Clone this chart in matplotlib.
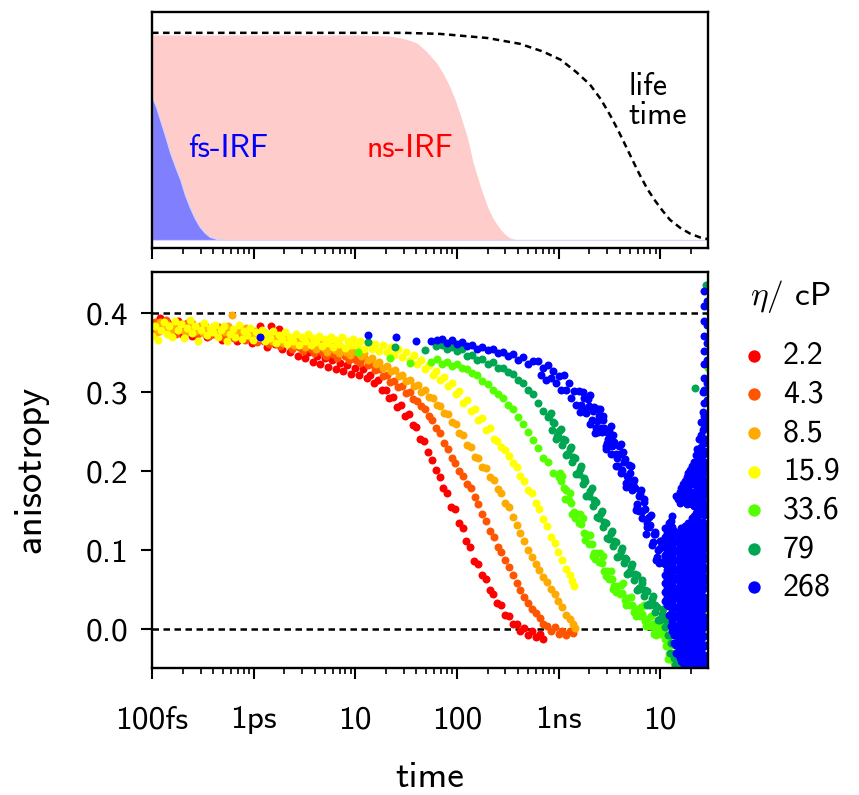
import matplotlib
matplotlib.use("Agg")
from matplotlib import pyplot as plt

plt.rcParams["font.family"] = "cmss10"
plt.rcParams["mathtext.fontset"] = "cm"
plt.rcParams["axes.unicode_minus"] = False

# ---------------- top panel: instrument responses and lifetime (time in ps)
fs_irf_t = [0.1, 0.11, 0.12, 0.135, 0.151, 0.17, 0.19, 0.21, 0.234, 0.263,
            0.295, 0.33, 0.37, 0.44, 0.55, 29600]
fs_irf = [0.69, 0.64, 0.58, 0.50, 0.42, 0.35, 0.29, 0.22, 0.16, 0.105,
          0.063, 0.035, 0.015, 0.004, 0.0, 0.0]

ns_irf_t = [0.1, 10, 21.9, 28.2, 33.9, 40.7, 50.1, 63.1, 74.1, 85.1, 95.5, 107,
            126, 145, 170, 200, 229, 269, 302, 331, 380, 447, 29600]
ns_irf = [0.99, 0.99, 0.985, 0.975, 0.965, 0.95, 0.91, 0.855, 0.80, 0.74, 0.68, 0.61,
          0.50, 0.37, 0.26, 0.16, 0.10, 0.05, 0.025, 0.01, 0.002, 0.0, 0.0]

life_t = [0.1, 30, 68, 200, 417, 700, 1050, 1500, 2040, 2600, 3240, 3850, 4520,
          5350, 6300, 7500, 8900, 10600, 12500, 15800, 19800, 24800, 29600]
life = [1.0, 1.0, 0.995, 0.975, 0.947, 0.91, 0.87, 0.81, 0.75, 0.68, 0.60, 0.53, 0.46,
        0.385, 0.314, 0.245, 0.19, 0.14, 0.097, 0.058, 0.03, 0.012, 0.004]

# ---------------- bottom panel: anisotropy decays, delay in ps
visc = ["2.2", "4.3", "8.5", "15.9", "33.6", "79", "268"]
colors = ["#ff0000", "#ff5500", "#ffaa00", "#ffff00", "#55ff00", "#00a651", "#0000ff"]

t_22 = [0.10, 0.105, 0.11, 0.12, 0.13, 0.14, 0.15, 0.165, 0.18, 0.195,
        0.21, 0.23, 0.25, 0.27, 0.29, 0.32, 0.35, 0.38, 0.41, 0.45,
        0.49, 0.53, 0.58, 0.63, 0.69, 0.75, 0.82, 0.89, 0.97, 1.05,
        1.15, 1.25, 1.36, 1.48, 1.62, 1.76, 1.92, 2.1, 2.3, 2.5,
        2.7, 3.0, 3.2, 3.5, 3.8, 4.2, 4.5, 5.0, 5.4, 5.9,
        6.4, 7.0, 7.6, 8.3, 9.1, 9.9,
        10.8, 11.8, 12.9, 14.0, 15.3, 16.7, 18.2, 19.9, 21.7, 23.7,
        25.8, 28.2, 30.8, 33.6, 36.6, 40.0, 43.6, 47.6, 52, 56.7,
        61.9, 67.5, 73.7, 80.4, 87.7, 95.7, 104, 114, 124, 136,
        148, 162, 176, 192, 210, 229, 250, 273, 298, 325,
        354, 387, 422, 460, 502, 548, 598, 652, 700]
r_22 = [0.372, 0.386, 0.379, 0.394, 0.381, 0.388, 0.376, 0.384, 0.390, 0.373,
        0.382, 0.386, 0.371, 0.380, 0.375, 0.384, 0.369, 0.378, 0.373, 0.381,
        0.366, 0.375, 0.370, 0.379, 0.364, 0.374, 0.368, 0.377, 0.362, 0.371,
        0.384, 0.364, 0.357, 0.383, 0.361, 0.380, 0.354, 0.362, 0.350, 0.358,
        0.346, 0.354, 0.343, 0.350, 0.338, 0.346, 0.335, 0.343, 0.332, 0.340,
        0.329, 0.337, 0.326, 0.334, 0.323, 0.331,
        0.322, 0.329, 0.318, 0.321, 0.311, 0.315, 0.303, 0.302, 0.292, 0.294,
        0.281, 0.283, 0.270, 0.272, 0.258, 0.256, 0.240, 0.238, 0.224, 0.214,
        0.201, 0.193, 0.178, 0.172, 0.155, 0.152, 0.134, 0.128, 0.111, 0.104,
        0.086, 0.082, 0.068, 0.063, 0.050, 0.045, 0.033, 0.030, 0.018, 0.016,
        0.006, 0.006, -0.002, 0.001, -0.007, -0.003, -0.010, -0.006, -0.012]

t_43 = [0.102, 0.108, 0.117, 0.126, 0.137, 0.148, 0.16, 0.173, 0.187, 0.202,
        0.22, 0.24, 0.26, 0.28, 0.305, 0.33, 0.36, 0.39, 0.42, 0.46,
        0.5, 0.54, 0.59, 0.64, 0.7, 0.76, 0.83, 0.9, 0.98, 1.07,
        1.17, 1.28, 1.4, 1.53, 1.67, 1.82, 1.98, 2.16, 2.36, 2.57,
        2.8, 3.05, 3.33, 3.63, 3.96, 4.32, 4.71, 5.13, 5.6, 6.1,
        6.65, 7.25, 7.9, 8.6, 9.4,
        10.2, 11.1, 12.1, 13.2, 14.4, 15.7, 17.1, 18.7, 20.4, 22.2,
        24.2, 26.4, 28.8, 31.4, 34.2, 37.3, 40.7, 44.4, 48.4, 52.8,
        57.5, 62.7, 68.4, 74.6, 81.3, 88.7, 96.7, 105, 115, 125,
        137, 149, 163, 177, 193, 211, 230, 251, 273, 298,
        325, 355, 387, 422, 460, 501, 547, 596, 650, 709,
        773, 843, 919, 1000, 1090, 1190, 1300, 1400]
r_43 = [0.380, 0.389, 0.377, 0.385, 0.391, 0.379, 0.386, 0.374, 0.383, 0.378,
        0.387, 0.376, 0.382, 0.373, 0.380, 0.384, 0.371, 0.379, 0.375, 0.382,
        0.370, 0.377, 0.373, 0.368, 0.376, 0.371, 0.366, 0.374, 0.369, 0.363,
        0.372, 0.366, 0.361, 0.369, 0.364, 0.358, 0.366, 0.361, 0.355, 0.363,
        0.357, 0.352, 0.360, 0.354, 0.349, 0.357, 0.351, 0.346, 0.354, 0.348,
        0.343, 0.350, 0.345, 0.340, 0.347,
        0.341, 0.337, 0.343, 0.334, 0.336, 0.328, 0.329, 0.320, 0.321, 0.313,
        0.314, 0.306, 0.307, 0.299, 0.300, 0.291, 0.289, 0.282, 0.279, 0.270,
        0.265, 0.254, 0.248, 0.236, 0.228, 0.216, 0.210, 0.200, 0.194, 0.183,
        0.178, 0.167, 0.158, 0.146, 0.137, 0.124, 0.117, 0.104, 0.097, 0.087,
        0.078, 0.069, 0.058, 0.050, 0.040, 0.033, 0.026, 0.020, 0.014, 0.007,
        0.004, -0.002, 0.002, -0.006, -0.003, -0.008, -0.002, -0.005]

t_85 = [0.104, 0.112, 0.121, 0.131, 0.142, 0.154, 0.167, 0.181, 0.196, 0.212,
        0.23, 0.25, 0.27, 0.295, 0.32, 0.345, 0.375, 0.405, 0.44, 0.48,
        0.52, 0.56, 0.61, 0.66, 0.72, 0.78, 0.85, 0.92, 1.0, 1.09,
        1.18, 1.29, 1.4, 1.52, 1.65, 1.8, 1.95, 2.12, 2.3, 2.5,
        2.72, 2.96, 3.22, 3.5, 3.8, 4.13, 4.5, 4.9, 5.3, 5.8,
        6.3, 6.85, 7.45, 8.1, 8.8, 9.6,
        10.4, 11.3, 12.3, 13.4, 14.6, 15.9, 17.3, 18.9, 20.6, 22.5,
        24.5, 26.7, 29.1, 31.7, 34.6, 37.7, 41.1, 44.8, 48.8, 53.2,
        58, 63.2, 68.9, 75.1, 81.9, 89.3, 97.3, 106, 116, 126,
        137, 150, 163, 178, 194, 212, 231, 251, 274, 299,
        326, 355, 387, 422, 460, 501, 546, 595, 649, 707,
        771, 840, 916, 998, 1090, 1190, 1290, 1380, 1440]
r_85 = [0.383, 0.376, 0.388, 0.380, 0.385, 0.377, 0.384, 0.379, 0.386, 0.376,
        0.382, 0.387, 0.377, 0.383, 0.375, 0.381, 0.378, 0.384, 0.374, 0.380,
        0.376, 0.383, 0.397, 0.373, 0.379, 0.375, 0.381, 0.371, 0.377, 0.372,
        0.368, 0.375, 0.369, 0.365, 0.372, 0.366, 0.362, 0.369, 0.364, 0.359,
        0.366, 0.361, 0.357, 0.364, 0.358, 0.354, 0.361, 0.356, 0.351, 0.358,
        0.353, 0.349, 0.356, 0.350, 0.347, 0.353,
        0.350, 0.345, 0.349, 0.341, 0.343, 0.336, 0.338, 0.331, 0.333, 0.326,
        0.328, 0.320, 0.321, 0.314, 0.315, 0.307, 0.309, 0.300, 0.302, 0.294,
        0.293, 0.284, 0.282, 0.273, 0.272, 0.262, 0.259, 0.248, 0.245, 0.233,
        0.230, 0.218, 0.216, 0.205, 0.204, 0.192, 0.189, 0.177, 0.172, 0.160,
        0.154, 0.142, 0.132, 0.121, 0.111, 0.100, 0.091, 0.082, 0.075, 0.066,
        0.060, 0.051, 0.045, 0.035, 0.028, 0.018, 0.013, 0.006, 0.001]

t_159 = [0.1, 0.107, 0.114, 0.122, 0.13, 0.139, 0.148, 0.158, 0.169, 0.18,
         0.192, 0.205, 0.219, 0.234, 0.25, 0.267, 0.285, 0.304, 0.325, 0.347,
         0.37, 0.395, 0.42, 0.45, 0.48, 0.51, 0.545, 0.58, 0.62, 0.66,
         0.71, 0.76, 0.81, 0.86, 0.92, 0.98, 1.05, 1.12, 1.2, 1.28,
         1.36, 1.45, 1.55, 1.66, 1.77, 1.89, 2.02, 2.15, 2.3, 2.45,
         2.62, 2.8, 2.98, 3.18, 3.4, 3.63, 3.87, 4.13, 4.41, 4.7,
         5.02, 5.36, 5.72, 6.1, 6.51, 6.95, 7.42, 7.92, 8.45, 9.0, 9.6,
         10.3, 11.2, 12.2, 13.3, 14.5, 15.8, 17.2, 18.8, 20.5, 22.3,
         24.3, 26.5, 28.9, 31.5, 34.3, 37.4, 40.8, 44.5, 48.5, 52.9,
         57.7, 62.9, 68.6, 74.8, 81.5, 88.9, 96.9, 106, 115, 125,
         137, 149, 163, 177, 193, 211, 230, 250, 273, 298,
         324, 354, 386, 421, 459, 500, 545, 594, 648, 706,
         770, 839, 915, 998, 1090, 1180, 1290, 1370, 1420]
r_159 = [0.371, 0.384, 0.366, 0.379, 0.389, 0.374, 0.383, 0.370, 0.390, 0.378,
         0.386, 0.368, 0.381, 0.391, 0.375, 0.384, 0.364, 0.379, 0.387, 0.372,
         0.381, 0.376, 0.385, 0.369, 0.378, 0.383, 0.365, 0.374, 0.380, 0.370,
         0.385, 0.367, 0.377, 0.372, 0.381, 0.366, 0.376, 0.370, 0.379, 0.364,
         0.374, 0.368, 0.377, 0.362, 0.372, 0.367, 0.376, 0.361, 0.370, 0.365,
         0.374, 0.360, 0.369, 0.364, 0.373, 0.359, 0.368, 0.363, 0.371, 0.358,
         0.367, 0.362, 0.370, 0.357, 0.366, 0.361, 0.369, 0.356, 0.365, 0.360, 0.367,
         0.358, 0.365, 0.355, 0.362, 0.354, 0.361, 0.352, 0.360, 0.350, 0.357,
         0.347, 0.354, 0.344, 0.351, 0.340, 0.347, 0.335, 0.341, 0.329, 0.334,
         0.322, 0.326, 0.315, 0.319, 0.307, 0.311, 0.297, 0.301, 0.286, 0.290,
         0.276, 0.279, 0.264, 0.267, 0.252, 0.254, 0.240, 0.238, 0.230, 0.226,
         0.219, 0.210, 0.205, 0.194, 0.188, 0.176, 0.172, 0.160, 0.152, 0.139,
         0.130, 0.117, 0.109, 0.097, 0.088, 0.076, 0.068, 0.061, 0.055]

t_336 = [10.7, 21.9, 34.7, 56, 63, 71, 79, 89, 100, 112,
         126, 141, 158, 178, 200, 224, 251, 282, 316, 355,
         398, 447, 501, 562, 631, 708, 794, 891, 1000,
         1060, 1120, 1190, 1260, 1330, 1410, 1500, 1580, 1680, 1780,
         1880, 2000, 2110, 2240, 2370, 2510, 2660, 2820, 2990, 3160,
         3350, 3550, 3760, 3980, 4220, 4470, 4730, 5010, 5310, 5620,
         5960, 6310, 6680, 7080, 7500, 7940, 8410, 8910, 9440, 10000,
         10600, 11200, 11900, 12600,
         1030, 1150, 1290, 1450, 1630, 1830, 2050, 2300, 2580, 2900,
         3250, 3650, 4100, 4600, 5160, 5790, 6500, 7290, 8180, 9180, 10300,
         1090, 1370, 1730, 2180, 2740, 3450, 4340, 5470, 6880, 8660, 10900,
         13000, 14000, 12000, 11500, 12300, 13500,
         27000, 28500, 29000, 28000, 29300, 27500, 28800]
r_336 = [0.350, 0.343, 0.337, 0.338, 0.342, 0.335, 0.338, 0.333, 0.336, 0.331,
         0.329, 0.324, 0.321, 0.314, 0.310, 0.303, 0.298, 0.292, 0.284, 0.278,
         0.268, 0.259, 0.249, 0.239, 0.229, 0.217, 0.211, 0.198, 0.192,
         0.188, 0.179, 0.176, 0.163, 0.160, 0.148, 0.145, 0.134, 0.133, 0.121,
         0.120, 0.108, 0.108, 0.096, 0.096, 0.085, 0.084, 0.073, 0.074, 0.063,
         0.063, 0.054, 0.055, 0.045, 0.046, 0.037, 0.039, 0.030, 0.031, 0.023,
         0.025, 0.016, 0.019, 0.010, 0.013, 0.004, 0.007, -0.002, 0.001, -0.006,
         -0.004, -0.012, -0.010, -0.020,
         0.197, 0.165, 0.172, 0.140, 0.145, 0.113, 0.119, 0.089, 0.096, 0.067,
         0.074, 0.047, 0.056, 0.030, 0.041, 0.016, 0.028, 0.004, 0.017, -0.007, 0.007,
         0.194, 0.145, 0.140, 0.093, 0.092, 0.051, 0.058, 0.021, 0.030, -0.006, 0.006,
         -0.030, -0.045, -0.038, -0.022, -0.032, -0.040,
         0.020, 0.080, 0.150, 0.260, 0.330, -0.020, 0.000]

t_79 = [13.2, 24.5, 49, 62,
        71, 79, 89, 100, 112, 126, 141, 158, 178, 200,
        224, 251, 282, 316, 355, 398, 447, 501, 562, 631, 708, 794,
        810, 860, 910, 965, 1020, 1080, 1150, 1220, 1290, 1370,
        1450, 1540, 1630, 1730, 1830, 1940, 2060, 2180, 2310, 2450,
        2600, 2750, 2920, 3090, 3280, 3470, 3680, 3900, 4140, 4390,
        4650, 4930, 5220, 5530, 5870, 6220, 6590, 6980, 7400, 7850,
        8320, 8810, 9340, 9900, 10500, 11100, 11800, 12500, 13300, 14100,
        14900, 15800, 16700,
        840, 940, 1050, 1180, 1330, 1490, 1670, 1880, 2110, 2370,
        2660, 2980, 3350, 3760, 4220, 4730, 5310, 5960, 6680, 7500,
        8410, 9440, 10600, 11900, 13300, 15000, 16500,
        880, 990, 1110, 1250, 1400, 1580, 1770, 1990, 2240, 2510,
        2820, 3160, 3550, 3980, 4470, 5010, 5620, 6310, 7080, 7940,
        8910, 10000, 11200,
        12500, 14000, 15500, 13800, 15200, 16200, 17600, 12900, 22100,
        28500, 29000, 27500, 28000, 29300, 26500, 28700, 27800, 29100, 29400]
r_79 = [0.363, 0.357, 0.353, 0.358,
        0.360, 0.354, 0.357, 0.352, 0.354, 0.346, 0.347, 0.341, 0.342, 0.336,
        0.338, 0.331, 0.331, 0.325, 0.323, 0.315, 0.312, 0.302, 0.297, 0.286, 0.276, 0.268,
        0.270, 0.252, 0.261, 0.244, 0.251, 0.233, 0.239, 0.222, 0.228, 0.211,
        0.216, 0.198, 0.203, 0.184, 0.188, 0.170, 0.175, 0.156, 0.161, 0.142,
        0.147, 0.129, 0.134, 0.115, 0.121, 0.105, 0.110, 0.093, 0.099, 0.083,
        0.089, 0.072, 0.078, 0.062, 0.068, 0.052, 0.058, 0.042, 0.048, 0.032,
        0.038, 0.022, 0.028, 0.012, 0.019, 0.003, 0.010, -0.008, -0.002, -0.020,
        -0.014, -0.033, -0.040,
        0.273, 0.241, 0.253, 0.220, 0.230, 0.196, 0.206, 0.169, 0.178, 0.142,
        0.150, 0.115, 0.124, 0.091, 0.103, 0.070, 0.082, 0.050, 0.062, 0.030,
        0.042, 0.011, 0.025, -0.007, 0.006, -0.029, -0.021,
        0.262, 0.243, 0.241, 0.221, 0.218, 0.196, 0.191, 0.168, 0.163, 0.141,
        0.136, 0.114, 0.112, 0.092, 0.090, 0.071, 0.070, 0.051, 0.050, 0.031,
        0.031, 0.013, 0.013,
        -0.030, -0.046, -0.047, -0.036, -0.028, -0.045, -0.040, -0.018, 0.305,
        0.435, 0.370, 0.300, 0.240, 0.180, 0.130, 0.070, 0.030, -0.020, 0.260]

t_268 = [1.15, 13.2, 25.1, 39.8, 56.2, 63,
         71, 79, 89, 100, 112, 126, 141, 158, 178, 200,
         224, 251, 282, 316, 355, 398, 447, 501, 562,
         631, 668, 708, 750, 794, 841, 891, 944, 1000, 1060,
         1120, 1190, 1260, 1330, 1410, 1500, 1580, 1680, 1780, 1880,
         2000, 2110, 2240, 2370, 2510, 2660, 2820, 2990, 3160, 3350,
         3550, 3760, 3980, 4220, 4470, 4730, 5010, 5310, 5620, 5960,
         6310, 6680, 7080, 7500, 7940, 8410, 8910, 9440, 10000,
         1630, 1730, 1830, 1940, 2060, 2180, 2310, 2450, 2600, 2750,
         2920, 3090, 3280, 3470, 3680, 3900, 4140, 4390, 4650, 4930,
         5220, 5530, 5870, 6220, 6590, 6980, 7400, 7850, 8320, 8810,
         9340, 9900, 10500, 11100, 11800, 12500, 13300, 14100, 14900, 15800, 16700,
         2050, 2300, 2580, 2900, 3250, 3650, 4100, 4600, 5160, 5790,
         6500, 7290, 8180, 9180, 10300, 11600,
         2170, 2430, 2730, 3060, 3440, 3860, 4330, 4860, 5450, 6120,
         6870, 7710, 8650, 9700]
r_268 = [0.370, 0.372, 0.370, 0.365, 0.364, 0.366,
         0.367, 0.362, 0.366, 0.361, 0.363, 0.358, 0.360, 0.355, 0.357, 0.353,
         0.354, 0.349, 0.351, 0.345, 0.348, 0.341, 0.344, 0.336, 0.339,
         0.339, 0.322, 0.331, 0.315, 0.334, 0.318, 0.327, 0.311, 0.320, 0.303,
         0.321, 0.303, 0.311, 0.293, 0.301, 0.283, 0.301, 0.284, 0.292, 0.274,
         0.282, 0.264, 0.281, 0.263, 0.270, 0.250, 0.255, 0.236, 0.251, 0.232,
         0.237, 0.217, 0.222, 0.201, 0.215, 0.194, 0.198, 0.176, 0.179, 0.158,
         0.171, 0.149, 0.152, 0.129, 0.132, 0.110, 0.123, 0.100, 0.103,
         0.275, 0.300, 0.278, 0.291, 0.260, 0.277, 0.254, 0.279, 0.255, 0.265,
         0.232, 0.248, 0.222, 0.246, 0.222, 0.232, 0.197, 0.212, 0.185, 0.207,
         0.181, 0.189, 0.154, 0.168, 0.140, 0.161, 0.134, 0.142, 0.106, 0.120,
         0.091, 0.111, 0.085, 0.094, 0.058, 0.072, 0.044, 0.065, 0.039, 0.047, 0.011,
         0.296, 0.248, 0.279, 0.228, 0.257, 0.206, 0.234, 0.180, 0.206, 0.151,
         0.176, 0.120, 0.144, 0.087, 0.112, 0.058,
         0.276, 0.249, 0.270, 0.240, 0.236, 0.206, 0.224, 0.191, 0.183, 0.149,
         0.164, 0.129, 0.120, 0.084]

# late-time cloud of the 268 cP sample, one column per delay
tail_t = [11200, 11700, 12200, 12700, 13200, 13700, 14300, 14900, 15500, 16100,
          16800, 17500, 18200, 18900, 19700, 20500, 21400, 22300, 23200, 24100,
          25100, 26100, 27200, 28800]
tail_r = [
    [0.128, 0.117, 0.104, 0.093, 0.082, 0.069, 0.058, 0.047, 0.036],
    [0.122, 0.110, 0.098, 0.087, 0.075, 0.064, 0.052, 0.041, 0.030],
    [0.134, 0.123, 0.111, 0.098, 0.087, 0.075, 0.064, 0.052, 0.041, 0.029, 0.018],
    [0.137, 0.124, 0.112, 0.100, 0.088, 0.076, 0.064, 0.052, 0.040, 0.028, 0.016,
     0.004],
    [0.143, 0.129, 0.116, 0.105, 0.093, 0.081, 0.069, 0.057, 0.046, 0.034, 0.022,
     0.010, -0.002],
    [0.124, 0.112, 0.100, 0.088, 0.076, 0.064, 0.052, 0.040, 0.028, 0.016, 0.004,
     -0.008, -0.018],
    [0.168, 0.122, 0.111, 0.099, 0.087, 0.075, 0.063, 0.051, 0.040, 0.028, 0.016,
     0.004, -0.008, -0.020, -0.030],
    [0.164, 0.122, 0.110, 0.099, 0.087, 0.075, 0.063, 0.051, 0.039, 0.027, 0.015,
     0.003, -0.009, -0.021, -0.032],
    [0.174, 0.160, 0.117, 0.105, 0.093, 0.081, 0.069, 0.058, 0.046, 0.034, 0.022,
     0.010, -0.002, -0.014, -0.026, -0.037],
    [0.178, 0.128, 0.116, 0.104, 0.092, 0.080, 0.068, 0.056, 0.044, 0.032, 0.020,
     0.008, -0.004, -0.016, -0.028, -0.040],
    [0.183, 0.165, 0.123, 0.111, 0.099, 0.087, 0.075, 0.063, 0.051, 0.039, 0.027,
     0.016, 0.004, -0.008, -0.020, -0.032, -0.043],
    [0.188, 0.170, 0.130, 0.118, 0.106, 0.094, 0.082, 0.070, 0.058, 0.046, 0.034,
     0.022, 0.010, -0.002, -0.014, -0.026, -0.038, -0.047],
    [0.192, 0.176, 0.158, 0.128, 0.117, 0.105, 0.093, 0.081, 0.069, 0.057, 0.045,
     0.033, 0.022, 0.010, -0.002, -0.014, -0.026, -0.038, -0.047],
    [0.197, 0.178, 0.160, 0.134, 0.122, 0.110, 0.098, 0.086, 0.074, 0.062, 0.050,
     0.038, 0.026, 0.014, 0.002, -0.010, -0.022, -0.034, -0.045],
    [0.201, 0.184, 0.166, 0.134, 0.122, 0.110, 0.099, 0.087, 0.075, 0.063, 0.051,
     0.039, 0.027, 0.016, 0.004, -0.008, -0.020, -0.032, -0.043],
    [0.206, 0.190, 0.174, 0.158, 0.140, 0.128, 0.116, 0.104, 0.092, 0.080, 0.068,
     0.056, 0.044, 0.032, 0.020, 0.008, -0.004, -0.016, -0.028, -0.040],
    [0.212, 0.197, 0.183, 0.169, 0.156, 0.143, 0.129, 0.117, 0.105, 0.093, 0.081,
     0.069, 0.058, 0.046, 0.034, 0.022, 0.010, -0.002, -0.014, -0.026, -0.038, -0.047],
    [0.220, 0.204, 0.189, 0.175, 0.161, 0.147, 0.133, 0.120, 0.108, 0.096, 0.084,
     0.072, 0.060, 0.048, 0.036, 0.024, 0.012, 0.000, -0.012, -0.024, -0.036, -0.047],
    [0.228, 0.211, 0.195, 0.181, 0.167, 0.153, 0.139, 0.125, 0.112, 0.099, 0.087,
     0.075, 0.063, 0.051, 0.039, 0.027, 0.016, 0.004, -0.008, -0.020, -0.032, -0.043],
    [0.240, 0.222, 0.206, 0.190, 0.176, 0.162, 0.148, 0.135, 0.122, 0.110, 0.098,
     0.086, 0.074, 0.062, 0.050, 0.038, 0.026, 0.014, 0.002, -0.010, -0.022, -0.034,
     -0.046],
    [0.262, 0.245, 0.230, 0.214, 0.200, 0.186, 0.172, 0.158, 0.145, 0.132, 0.119,
     0.106, 0.093, 0.081, 0.069, 0.057, 0.045, 0.033, 0.021, 0.010, -0.002, -0.014,
     -0.026, -0.037, -0.047],
    [0.300, 0.275, 0.252, 0.236, 0.220, 0.205, 0.190, 0.176, 0.162, 0.149, 0.136,
     0.124, 0.112, 0.100, 0.087, 0.075, 0.063, 0.051, 0.039, 0.027, 0.015, 0.003,
     -0.009, -0.021, -0.033, -0.045],
    [0.428, 0.409, 0.390, 0.371, 0.352, 0.336, 0.318, 0.302, 0.286, 0.270, 0.255,
     0.240, 0.225, 0.211, 0.197, 0.183, 0.170, 0.157, 0.144, 0.131, 0.118, 0.105,
     0.092, 0.079, 0.066, 0.053, 0.040, 0.027, 0.015, 0.003, -0.009, -0.021,
     -0.033, -0.045],
    [0.415, 0.385, 0.362, 0.340, 0.312, 0.290, 0.262, 0.235, 0.205, 0.178, 0.148,
     0.120, 0.090, 0.062, 0.035, 0.008, -0.020, -0.042],
]

tick_pos = [0.1, 1, 10, 100, 1000, 10000]
tick_lab = ["100fs", "1ps", "10", "100", "1ns", "10"]

# ---------------------------------------------------------------------------
fig = plt.figure(figsize=(8.59, 7.95), dpi=100)
ax1 = fig.add_axes([0.177, 0.688, 0.6473, 0.297])
ax2 = fig.add_axes([0.177, 0.160, 0.6473, 0.498])

dash = (0, (2.6, 1.8))

for ax in (ax1, ax2):
    ax.set_xscale("log")
    ax.set_xlim(0.1, 29600)
    for sp in ax.spines.values():
        sp.set_linewidth(1.7)
    ax.set_xticks(tick_pos)
    ax.tick_params(axis="both", which="major", direction="out", length=8, width=1.5)
    ax.tick_params(axis="both", which="minor", direction="out", length=4.5, width=1.2)

# top panel
ax1.fill_between(ns_irf_t, 0, ns_irf, color="#ffcccc", linewidth=0)
ax1.fill_between(fs_irf_t, 0, fs_irf, facecolor="#8080ff", edgecolor="#d4d4ff",
                 linewidth=0.8)
ax1.plot(life_t, life, color="black", linestyle=dash, linewidth=1.8)
ax1.set_ylim(-0.039, 1.101)
ax1.set_yticks([])
ax1.set_xticklabels([])
ax1.text(0.56, 0.444, "fs-IRF", color="#0000ff", fontsize=23, ha="center", va="center")
ax1.text(34.7, 0.444, "ns-IRF", color="#ff0000", fontsize=23, ha="center", va="center")
ax1.text(4840, 0.67, "life\ntime", color="black", fontsize=23, ha="left", va="center",
         linespacing=1.0)

# bottom panel
ax2.axhline(0.4, color="black", linestyle=dash, linewidth=1.8, zorder=1)
ax2.axhline(0.0, color="black", linestyle=dash, linewidth=1.8, zorder=1)

tb = [t for t, col in zip(tail_t, tail_r) for _ in col]
rb = [v for col in tail_r for v in col]
series = [(t_22, r_22), (t_43, r_43), (t_85, r_85), (t_159, r_159),
          (t_336, r_336), (t_79, r_79), (t_268 + tb, r_268 + rb)]
for (t, r), c, lab in zip(series, colors, visc):
    ax2.scatter(t, r, s=33, color=c, linewidths=0, label=lab, zorder=2)

ax2.set_ylim(-0.049, 0.452)
ax2.set_yticks([0.0, 0.1, 0.2, 0.3, 0.4])
ax2.set_yticklabels(["0.0", "0.1", "0.2", "0.3", "0.4"])
ax2.set_xticklabels(tick_lab)
ax2.tick_params(axis="x", which="major", labelsize=24, pad=19)
ax2.tick_params(axis="y", which="major", labelsize=24, pad=9)
ax2.set_xlabel("time", fontsize=27, labelpad=19)
ax2.set_ylabel("anisotropy", fontsize=28, labelpad=27)

fig.text(790 / 859, 1 - 297 / 795, r"$\eta$/ cP", fontsize=24, ha="center", va="center")
ax2.legend(loc="upper left", bbox_to_anchor=(0.826, 0.607), bbox_transform=fig.transFigure,
           frameon=False, fontsize=23, markerscale=1.55, handlelength=1.0,
           handletextpad=0.4, labelspacing=0.3, borderpad=0.4)

fig.savefig("out.png", dpi=100)
